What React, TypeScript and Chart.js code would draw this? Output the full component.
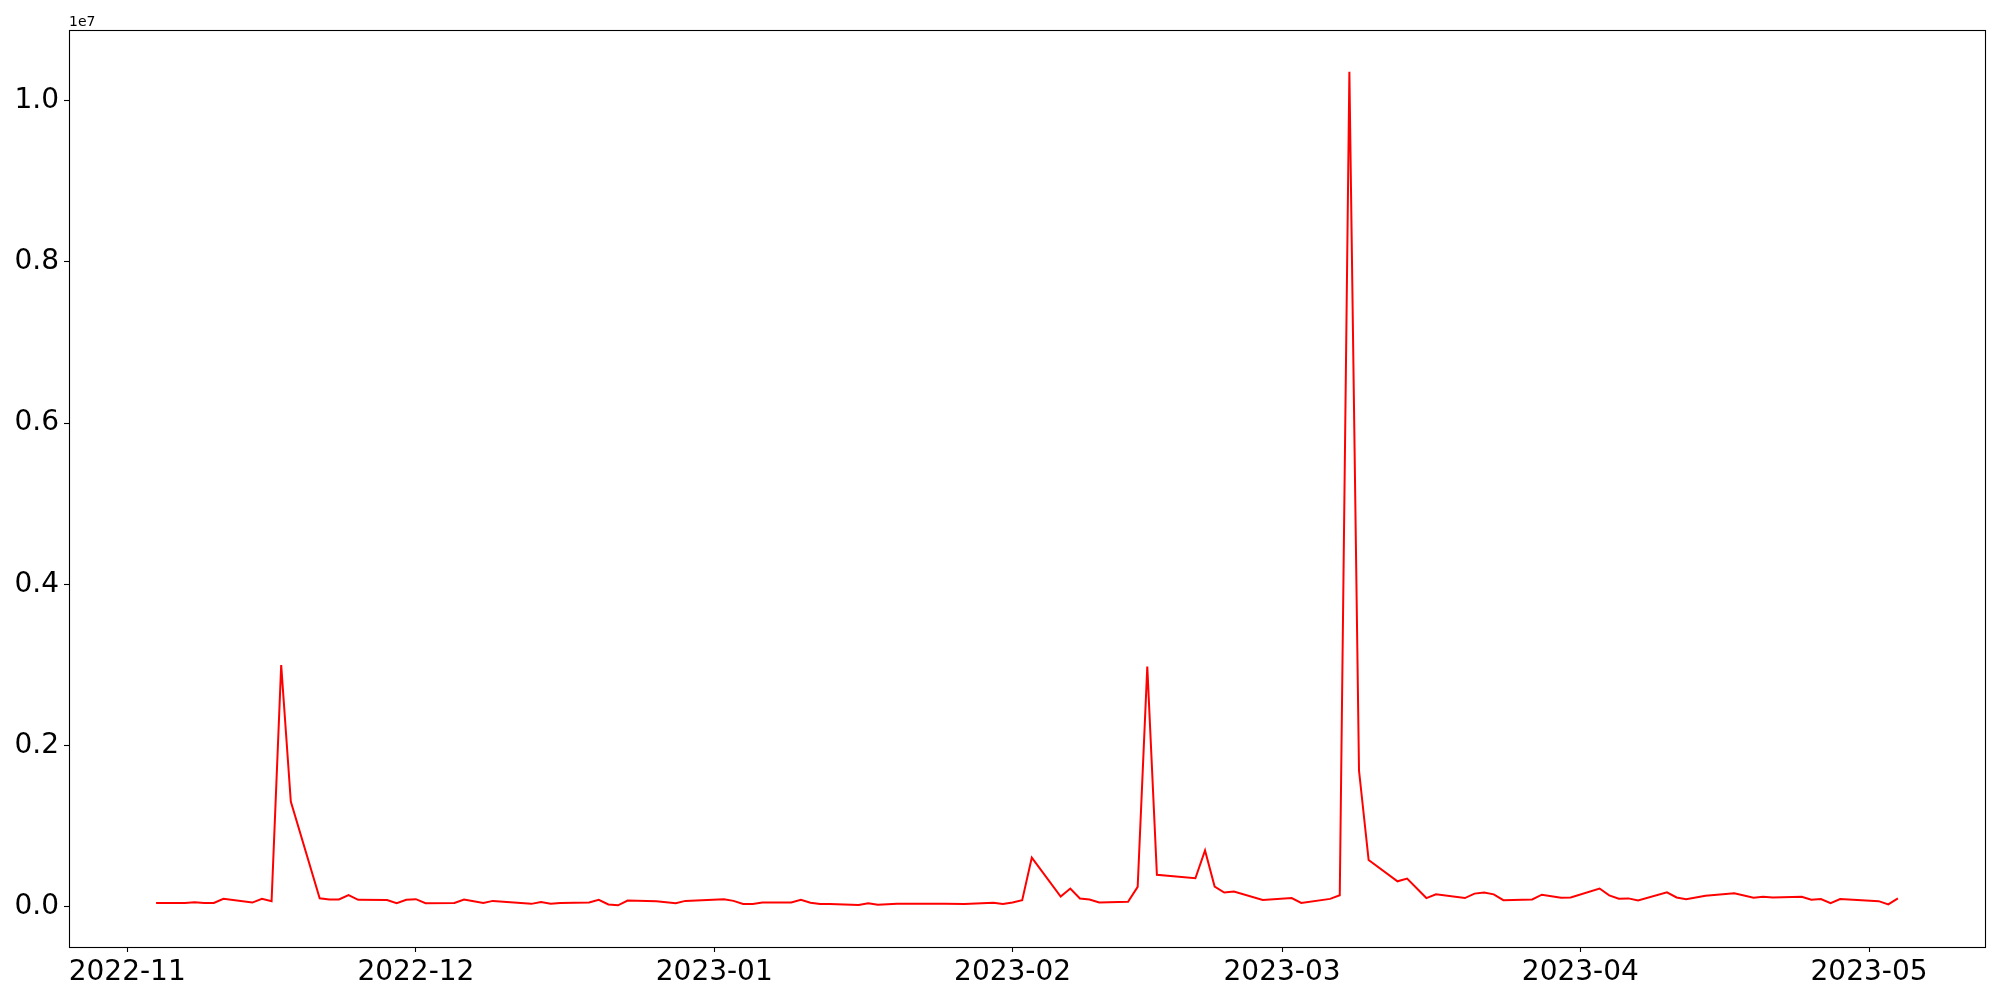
import React, { useEffect, useRef } from "react";
import { Chart, registerables } from "chart.js";

Chart.register(...registerables);

const dates: string[] = [
  "2022-11-04", "2022-11-07", "2022-11-08", "2022-11-09", "2022-11-10", "2022-11-11",
  "2022-11-14", "2022-11-15", "2022-11-16", "2022-11-17", "2022-11-18",
  "2022-11-21", "2022-11-22", "2022-11-23", "2022-11-24", "2022-11-25",
  "2022-11-28", "2022-11-29", "2022-11-30", "2022-12-01", "2022-12-02",
  "2022-12-05", "2022-12-06", "2022-12-07", "2022-12-08", "2022-12-09",
  "2022-12-13", "2022-12-14", "2022-12-15", "2022-12-16",
  "2022-12-19", "2022-12-20", "2022-12-21", "2022-12-22", "2022-12-23",
  "2022-12-26", "2022-12-28", "2022-12-29",
  "2023-01-02", "2023-01-03", "2023-01-04", "2023-01-05", "2023-01-06",
  "2023-01-09", "2023-01-10", "2023-01-11", "2023-01-12", "2023-01-13",
  "2023-01-16", "2023-01-17", "2023-01-18", "2023-01-20",
  "2023-01-25", "2023-01-27",
  "2023-01-30", "2023-01-31", "2023-02-01", "2023-02-02", "2023-02-03",
  "2023-02-06", "2023-02-07", "2023-02-08", "2023-02-09", "2023-02-10",
  "2023-02-13", "2023-02-14", "2023-02-15", "2023-02-16",
  "2023-02-20", "2023-02-21", "2023-02-22", "2023-02-23", "2023-02-24",
  "2023-02-27", "2023-03-02", "2023-03-03",
  "2023-03-06", "2023-03-07", "2023-03-08", "2023-03-09", "2023-03-10",
  "2023-03-13", "2023-03-14", "2023-03-16", "2023-03-17",
  "2023-03-20", "2023-03-21", "2023-03-22", "2023-03-23", "2023-03-24",
  "2023-03-27", "2023-03-28", "2023-03-30", "2023-03-31",
  "2023-04-03", "2023-04-04", "2023-04-05", "2023-04-06", "2023-04-07",
  "2023-04-10", "2023-04-11", "2023-04-12", "2023-04-14",
  "2023-04-17", "2023-04-19", "2023-04-20", "2023-04-21",
  "2023-04-24", "2023-04-25", "2023-04-26", "2023-04-27", "2023-04-28",
  "2023-05-02", "2023-05-03", "2023-05-04",
];

const values: number[] = [
  48000, 48000, 57000, 48000, 48000, 98000,
  52000, 98000, 69000, 3000000, 1305000,
  106000, 90000, 90000, 144000, 86000,
  84000, 44000, 86000, 94000, 44000,
  48000, 90000, 69000, 48000, 73000,
  36000, 58000, 37000, 48000,
  52000, 86000, 28000, 18000, 77000,
  69000, 44000, 73000,
  92000, 73000, 34000, 34000, 52000,
  52000, 86000, 50000, 34000, 34000,
  22000, 42000, 24000, 36000,
  38000, 34000,
  50000, 34000, 52000, 82000, 610000,
  127000, 226000, 102000, 90000, 52000,
  61000, 247000, 2980000, 396000,
  354000, 698000, 251000, 177000, 189000,
  84000, 108000, 48000,
  98000, 143000, 10360000, 1690000, 580000,
  316000, 350000, 108000, 154000,
  108000, 163000, 176000, 154000, 82000,
  91000, 150000, 112000, 116000,
  226000, 142000, 99000, 104000, 78000,
  180000, 116000, 95000, 137000,
  167000, 112000, 125000, 116000,
  125000, 87000, 95000, 44000, 95000,
  70000, 30000, 104000,
];

const xTickDates: string[] = [
  "2022-11-01", "2022-12-01", "2023-01-01", "2023-02-01",
  "2023-03-01", "2023-04-01", "2023-05-01",
];

const yTickValues: number[] = [0, 2000000, 4000000, 6000000, 8000000, 10000000];
const yOffsetLabel = "1e7";

const toMs = (s: string): number => {
  const [y, m, d] = s.split("-").map(Number);
  return Date.UTC(y, m - 1, d);
};

const FONT = "'DejaVu Sans', sans-serif";

export default function App() {
  const ref = useRef<HTMLCanvasElement | null>(null);

  useEffect(() => {
    if (!ref.current) return;
    const xs = dates.map(toMs);
    const pts = xs.map((x, i) => ({ x, y: values[i] }));
    const xMin0 = Math.min(...xs);
    const xMax0 = Math.max(...xs);
    const xr = xMax0 - xMin0;
    const yMin0 = Math.min(...values);
    const yMax0 = Math.max(...values);
    const yr = yMax0 - yMin0;

    const framePlugin = {
      id: "frame",
      afterDraw(chart: any) {
        const { ctx, chartArea } = chart;
        ctx.save();
        ctx.strokeStyle = "#000";
        ctx.lineWidth = 1.1;
        const l = Math.floor(chartArea.left) + 0.5;
        const t = Math.floor(chartArea.top) + 0.5;
        const r = Math.floor(chartArea.right) + 0.5;
        const b = Math.floor(chartArea.bottom) + 0.5;
        ctx.strokeRect(l, t, r - l, b - t);
        ctx.fillStyle = "#000";
        ctx.font = `14px ${FONT}`;
        ctx.textAlign = "left";
        ctx.textBaseline = "alphabetic";
        ctx.fillText(yOffsetLabel, chartArea.left, chartArea.top - 4);
        ctx.restore();
      },
    };

    const chart = new Chart(ref.current, {
      type: "line",
      data: {
        datasets: [
          {
            data: pts,
            borderColor: "#ff0000",
            borderWidth: 2,
            pointRadius: 0,
            tension: 0,
            fill: false,
          },
        ],
      },
      options: {
        animation: false,
        responsive: false,
        devicePixelRatio: 1,
        layout: { padding: { left: 0, right: 15, top: 30, bottom: 0 } },
        plugins: { legend: { display: false }, tooltip: { enabled: false } },
        scales: {
          x: {
            type: "linear",
            min: xMin0 - 0.05 * xr,
            max: xMax0 + 0.05 * xr,
            afterFit: (s: any) => {
              s.height = 53;
            },
            afterBuildTicks: (s: any) => {
              s.ticks = xTickDates.map((d) => ({ value: toMs(d) }));
            },
            border: { display: false },
            grid: {
              display: true,
              drawOnChartArea: false,
              drawTicks: true,
              tickLength: 5,
              tickColor: "#000",
              tickWidth: 1.1,
            },
            ticks: {
              autoSkip: false,
              maxRotation: 0,
              padding: 4,
              color: "#000",
              font: { family: FONT, size: 28 },
              callback: (v: any) => {
                const d = new Date(Number(v));
                const m = d.getUTCMonth() + 1;
                return `${d.getUTCFullYear()}-${m < 10 ? "0" + m : m}`;
              },
            },
          },
          y: {
            type: "linear",
            min: yMin0 - 0.05 * yr,
            max: yMax0 + 0.05 * yr,
            afterFit: (s: any) => {
              s.width = 69;
            },
            afterBuildTicks: (s: any) => {
              s.ticks = yTickValues.map((v) => ({ value: v }));
            },
            border: { display: false },
            grid: {
              display: true,
              drawOnChartArea: false,
              drawTicks: true,
              tickLength: 5,
              tickColor: "#000",
              tickWidth: 1.1,
            },
            ticks: {
              autoSkip: false,
              padding: 5,
              color: "#000",
              font: { family: FONT, size: 28 },
              callback: (v: any) => (Number(v) / 1e7).toFixed(1),
            },
          },
        },
      },
      plugins: [framePlugin],
    });
    return () => chart.destroy();
  }, []);

  return (
    <div style={{ position: "absolute", left: 0, top: 0, width: 2000, height: 1000, background: "#fff" }}>
      <canvas ref={ref} width={2000} height={1000} />
    </div>
  );
}
